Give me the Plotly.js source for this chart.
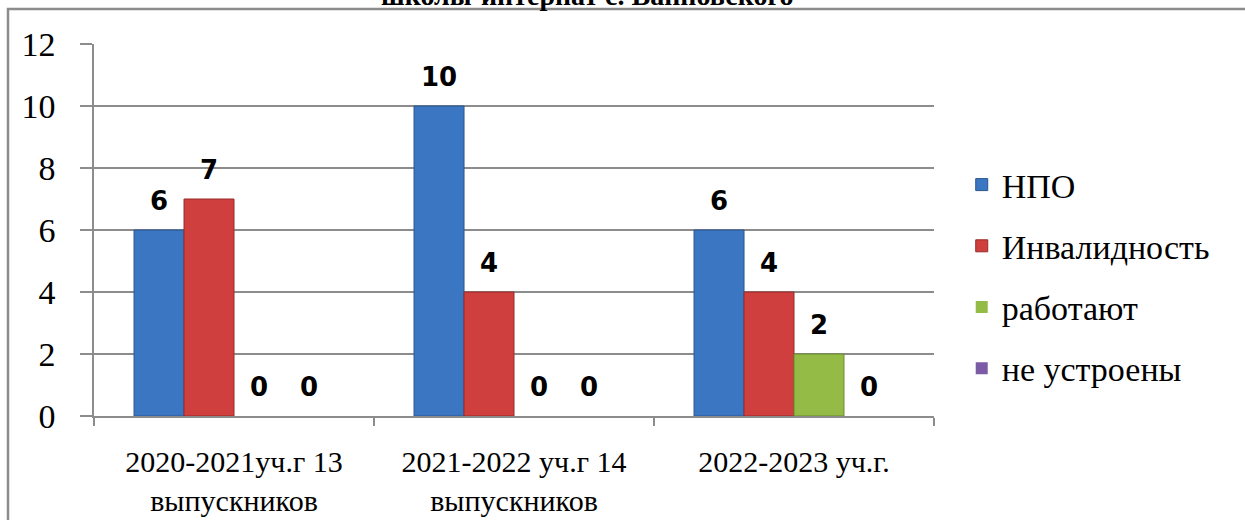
<!DOCTYPE html>
<html>
<head>
<meta charset="utf-8">
<script src="https://cdn.plot.ly/plotly-3.0.1.min.js"></script>
<style>
html,body{margin:0;padding:0;background:#fff;}
#chart{width:1245px;height:520px;}
</style>
</head>
<body>
<div id="chart"></div>
<script>
// ---- data ----
const categories = ['2020-2021уч.г 13<br>выпускников', '2021-2022 уч.г 14<br>выпускников', '2022-2023 уч.г.'];
const seriesNames = ['НПО', 'Инвалидность', 'работают', 'не устроены'];
const npo = [6, 10, 6];
const invalidnost = [7, 4, 4];
const rabotayut = [0, 0, 2];
const neUstroeny = [0, 0, 0];
const yTickValues = [0, 2, 4, 6, 8, 10, 12];
const titleText = 'школы-интернат с. Ванновского';

// ---- styles ----
const seriesValues = [npo, invalidnost, rabotayut, neUstroeny];
const colors = ['#3b76c3', '#cf3f3d', '#93bb45', '#7b5aa6'];
const edgeColors = ['#2a558e', '#962c2a', '#6a8a30', '#563f78'];
const gray = '#8c8c8c';
const serif = 'Liberation Serif, DejaVu Serif, Times New Roman, serif';

const bargap = 0.286;
const plotW = 1245 - 94 - 311;
const plotH = 520 - 44 - 104;
const barPx = plotW / categories.length * (1 - bargap) / seriesNames.length;

const traces = seriesNames.map((name, i) => ({
  type: 'bar',
  name: name,
  x: categories,
  y: seriesValues[i],
  legendgroup: 'g' + i,
  marker: {
    color: colors[i],
    line: {color: edgeColors[i], width: seriesValues[i].map(v => v === 0 ? 0 : 1)}
  },
  hoverinfo: 'x+y+name'
}));

const annotations = [];
seriesValues.forEach((vals, i) => {
  vals.forEach((v, j) => {
    annotations.push({
      x: categories[j], y: v, xref: 'x', yref: 'y',
      xshift: (i - (seriesNames.length - 1) / 2) * barPx,
      yshift: 29,
      yanchor: 'middle',
      text: String(v), showarrow: false,
      font: {family: 'DejaVu Sans, Arial, sans-serif', size: 26, color: '#000', weight: 'bold'}
    });
  });
});

// title line (partly above the visible area, as in the reference)
annotations.push({
  xref: 'paper', yref: 'paper',
  x: (587 - 94) / plotW, xanchor: 'center',
  y: (416 + 4) / plotH, yanchor: 'middle',
  text: '<b>' + titleText + '</b>', showarrow: false,
  font: {family: serif, size: 28, color: '#000'}
});

const layout = {
  width: 1245, height: 520,
  margin: {l: 94, r: 311, t: 44, b: 104},
  paper_bgcolor: '#fff', plot_bgcolor: '#fff',
  barmode: 'group', bargap: bargap, bargroupgap: 0,
  showlegend: true,
  legend: {
    x: 1.033, xanchor: 'left', y: 0.375, yanchor: 'middle',
    font: {family: serif, size: 34, color: '#000'},
    tracegroupgap: 14, traceorder: 'grouped', bgcolor: 'rgba(0,0,0,0)'
  },
  xaxis: {
    type: 'category',
    showline: true, linecolor: gray, linewidth: 1.5,
    ticks: 'outside', tickson: 'boundaries', ticklen: 8, tickcolor: gray, tickwidth: 1.5,
    showgrid: false,
    ticklabelstandoff: 18,
    tickfont: {family: serif, size: 30, color: '#000'}
  },
  yaxis: {
    range: [0, 12], tickvals: yTickValues,
    showline: true, linecolor: gray, linewidth: 1.5,
    ticks: 'outside', ticklen: 12, tickcolor: gray, tickwidth: 1.5,
    showgrid: true, gridcolor: gray, gridwidth: 1.5, zeroline: false,
    ticklabelstandoff: 18,
    tickfont: {family: serif, size: 34, color: '#000'}
  },
  shapes: [{
    type: 'rect', xref: 'paper', yref: 'paper',
    x0: (8 - 94) / plotW, x1: 2, y0: (416 - 9) / plotH, y1: -2,
    line: {color: gray, width: 2.5}, fillcolor: 'rgba(0,0,0,0)', layer: 'below'
  }],
  annotations: annotations
};

Plotly.newPlot('chart', traces, layout, {displayModeBar: false, responsive: false});
</script>
</body>
</html>
